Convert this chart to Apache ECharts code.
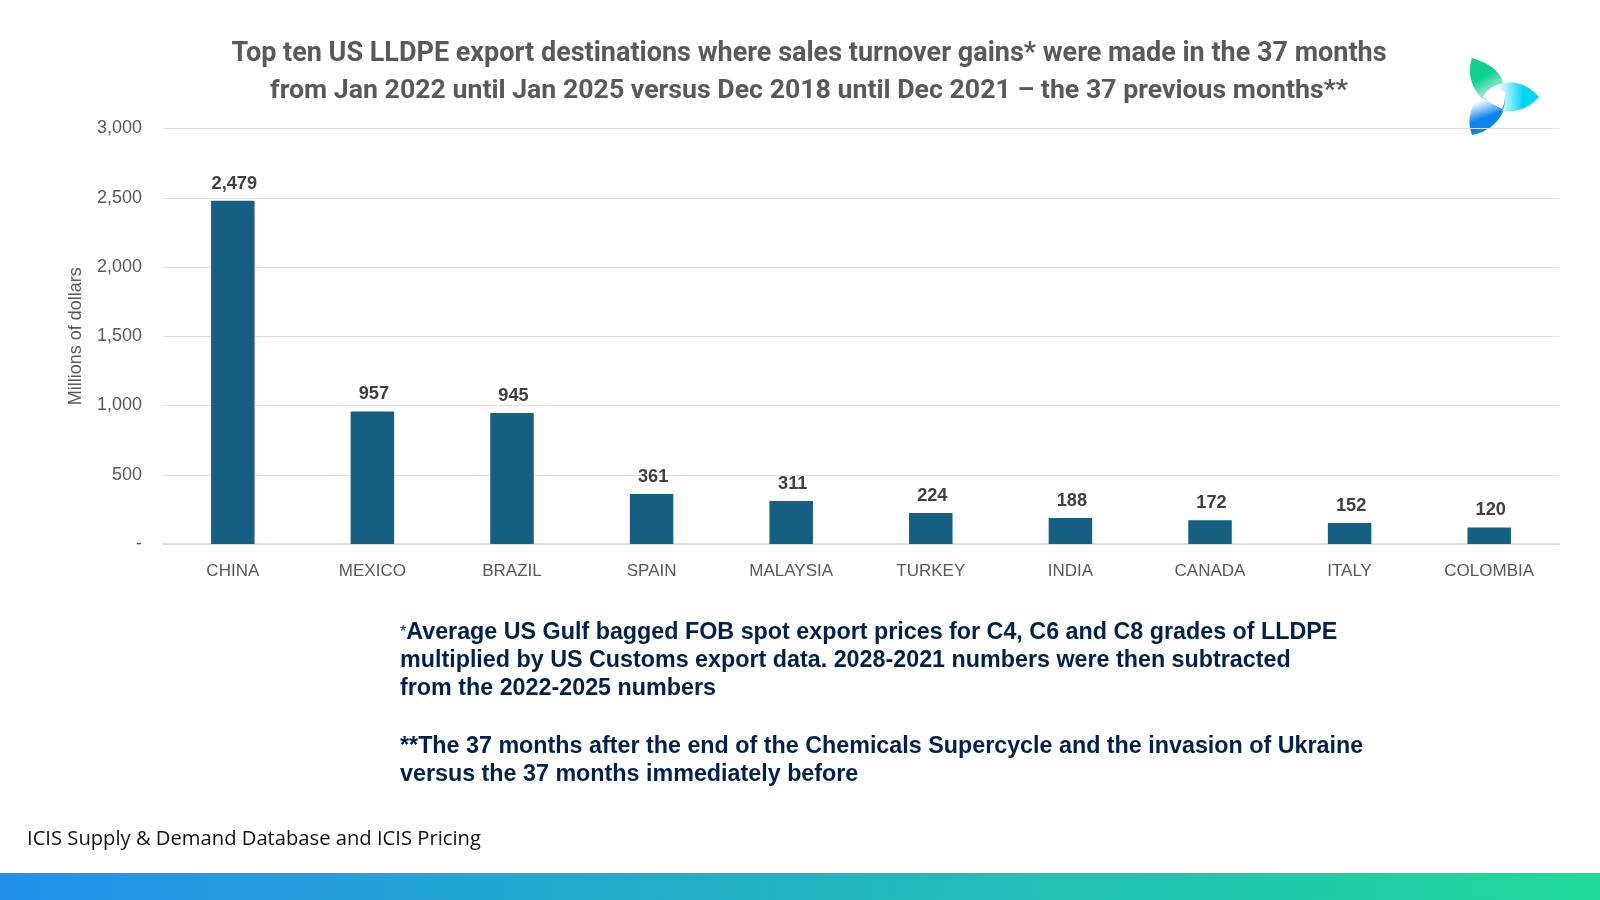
<!DOCTYPE html>
<html>
<head>
<meta charset="utf-8">
<title>Top ten US LLDPE export destinations</title>
<script src="https://cdn.jsdelivr.net/npm/echarts@6/dist/echarts.min.js"></script>
<style>
  html, body { margin: 0; padding: 0; background: #fff; }
  #chart { width: 1600px; height: 900px; }
</style>
</head>
<body>
<div id="chart"></div>
<script>
// data
var categories = ["CHINA", "MEXICO", "BRAZIL", "SPAIN", "MALAYSIA", "TURKEY", "INDIA", "CANADA", "ITALY", "COLOMBIA"];
var gains = [2479, 957, 945, 361, 311, 224, 188, 172, 152, 120];
var titleLines = [
    "Top ten US LLDPE export destinations where sales turnover gains* were made in the 37 months",
    "from Jan 2022 until Jan 2025 versus Dec 2018 until Dec 2021 \u2013 the 37 previous months**"
];
var noteLines = [
    "multiplied by US Customs export data. 2028-2021 numbers were then subtracted",
    "from the 2022-2025 numbers"
];
var noteLines2 = [
    "**The 37 months after the end of the Chemicals Supercycle and the invasion of Ukraine",
    "versus the 37 months immediately before"
];
var sourceText = "ICIS Supply & Demand Database and ICIS Pricing";
var yName = "Millions of dollars";

var NOTE_FONT = '"Liberation Sans", Arial, sans-serif';
var NOTE_COLOR = "#012050";
var NOTE_SIZE = 23.3;

function noteText(str, y) {
    return {
        type: "text", left: 400, top: y,
        style: { text: str, font: "bold " + NOTE_SIZE + "px " + NOTE_FONT, fill: NOTE_COLOR }
    };
}

// first note line starts with a small, not bold, asterisk
function noteTextStar(y) {
    return {
        type: "text", left: 400, top: y,
        style: {
            text: "{s|*}{b|Average US Gulf bagged FOB spot export prices for C4, C6 and C8 grades of LLDPE}",
            rich: {
                s: { font: "16px " + NOTE_FONT, fill: NOTE_COLOR },
                b: { font: "bold " + NOTE_SIZE + "px " + NOTE_FONT, fill: NOTE_COLOR }
            }
        }
    };
}

// logo petals, white towards the middle and coloured at the tip
function petal(name, d, x1, y1, x2, y2, color) {
    echarts.graphic.registerShape(name, echarts.graphic.extendPath(d));
    return {
        type: name,
        style: {
            fill: {
                type: "linear", x: x1, y: y1, x2: x2, y2: y2, global: true,
                colorStops: [
                    { offset: 0, color: "#ffffff" },
                    { offset: 0.6, color: color },
                    { offset: 1, color: color }
                ]
            }
        }
    };
}

var chart = echarts.init(document.getElementById("chart"));

chart.setOption({
    backgroundColor: "#ffffff",
    animation: false,
    title: [
        {
            text: titleLines[0], left: 804, top: 36, textAlign: "center",
            textStyle: { fontFamily: "Roboto", fontWeight: "bold", fontSize: 27, color: "#595959" }
        },
        {
            text: titleLines[1], left: 804, top: 73, textAlign: "center",
            textStyle: { fontFamily: "Roboto", fontWeight: "bold", fontSize: 26.7, color: "#595959" }
        }
    ],
    grid: { left: 163, right: 41, top: 128.5, height: 415.5 },
    xAxis: {
        type: "category",
        data: categories,
        axisTick: { show: false },
        axisLine: { lineStyle: { color: "#d9d9d9", width: 1.5 } },
        axisLabel: { color: "#595959", fontSize: 17, fontFamily: "Liberation Sans", margin: 19 }
    },
    yAxis: {
        type: "value",
        min: 0,
        max: 3000,
        interval: 500,
        name: yName,
        nameLocation: "middle",
        nameRotate: 90,
        nameGap: 78,
        nameTextStyle: { color: "#595959", fontSize: 18, fontFamily: "Liberation Sans" },
        axisLine: { show: false },
        axisTick: { show: false },
        splitLine: { lineStyle: { color: "#e0e0e0", width: 1 } },
        axisLabel: {
            color: "#595959", fontSize: 18, fontFamily: "Liberation Sans", margin: 21,
            padding: [3, 0, 0, 0],
            formatter: function (v) { return v === 0 ? "-" : v.toLocaleString("en-US"); }
        }
    },
    series: [{
        type: "bar",
        data: gains,
        barWidth: 43.5,
        itemStyle: { color: "#156082" },
        label: {
            show: true,
            position: "top",
            distance: 8,
            offset: [1.5, 0],
            color: "#404040",
            fontWeight: "bold",
            fontSize: 18.2,
            fontFamily: "Liberation Sans",
            formatter: function (p) { return p.value.toLocaleString("en-US"); }
        }
    }],
    graphic: [
        // colour band along the bottom
        {
            type: "rect",
            shape: { x: 0, y: 873, width: 1600, height: 27 },
            style: {
                fill: {
                    type: "linear", x: 0, y: 0, x2: 1, y2: 0,
                    colorStops: [{ offset: 0, color: "#2490ea" }, { offset: 1, color: "#20d99a" }]
                }
            }
        },
        petal("petalGreen", "M1472 58 C1490 63 1504 74 1503 86 C1495 88 1486 92 1483 97 L1500 108 C1480 105 1464 80 1472 58 Z", 1497, 103, 1472, 60, "#0fd08e"),
        petal("petalBlue", "M1472 135 C1466 118 1472 104 1480 97 C1488 101 1496 106 1502 109 C1505 103 1505 95 1505 87 C1510 105 1500 130 1472 135 Z", 1482, 100, 1492, 128, "#0a84f0"),
        petal("petalCyan", "M1539 97 C1530 86 1515 80 1505 83 C1495 84 1486 90 1483 97 C1490 92 1500 90 1505 92 C1506 100 1505 106 1502 111 C1518 113 1530 107 1539 97 Z", 1498, 97, 1540, 97, "#00d5f5"),
        noteTextStar(621),
        noteText(noteLines[0], 649),
        noteText(noteLines[1], 677),
        noteText(noteLines2[0], 735.5),
        noteText(noteLines2[1], 763.5),
        {
            type: "text", left: 27, top: 829,
            style: { text: sourceText, font: '20.2px "Open Sans", sans-serif', fill: "#111111" }
        }
    ]
});
</script>
</body>
</html>
